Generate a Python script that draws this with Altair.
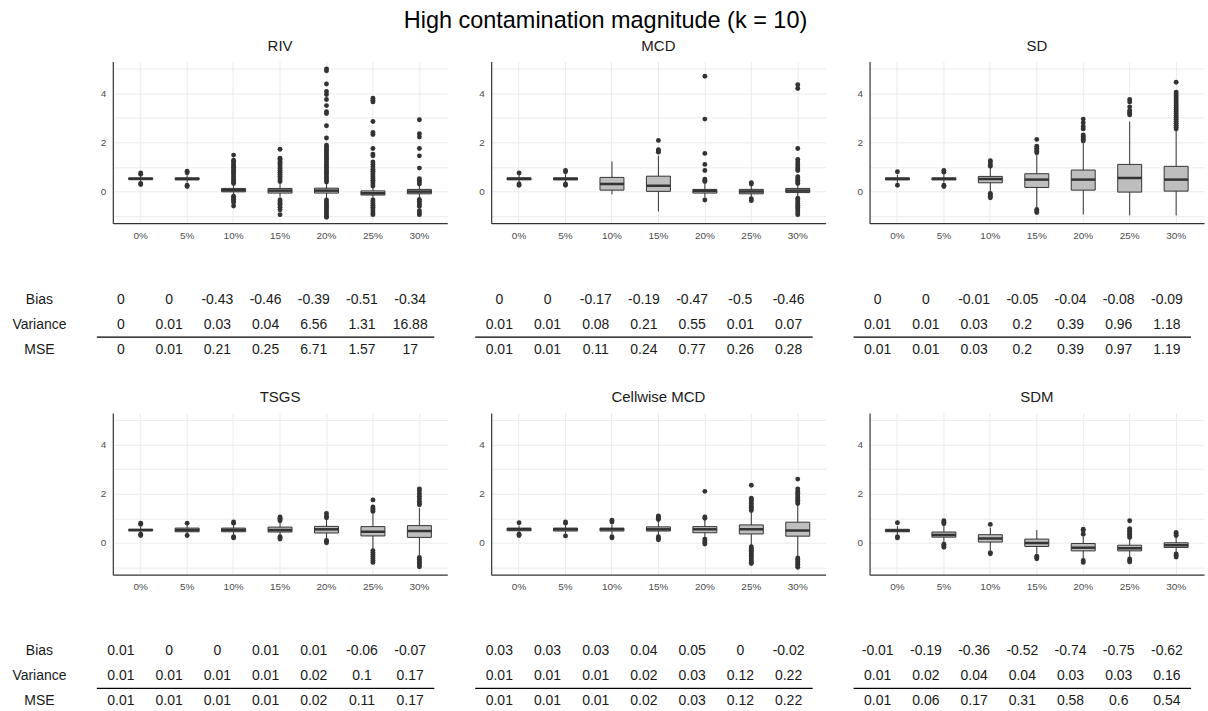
import altair as alt
import pandas as pd

FONT = "Liberation Sans, Arial, sans-serif"

levels = ["0%", "5%", "10%", "15%", "20%", "25%", "30%"]
methods = ["RIV", "MCD", "SD", "TSGS", "Cellwise MCD", "SDM"]
row_names = ["Bias", "Variance", "MSE"]

# box statistics per method (one value per contamination level)
whisker_lo = {
    "RIV": [0.38, 0.36, -0.15, -0.25, -0.28, -0.30, -0.28],
    "MCD": [0.35, 0.35, -0.12, -0.82, -0.25, -0.25, -0.22],
    "SD": [0.35, 0.35, -0.02, -0.68, -0.94, -0.98, -0.98],
    "TSGS": [0.40, 0.35, 0.33, 0.30, 0.15, -0.25, -0.52],
    "Cellwise MCD": [0.40, 0.38, 0.35, 0.30, 0.20, -0.10, -0.55],
    "SDM": [0.33, 0.02, -0.30, -0.45, -0.65, -0.60, -0.40],
}
box_q1 = {
    "RIV": [0.48, 0.47, -0.02, -0.07, -0.07, -0.15, -0.10],
    "MCD": [0.47, 0.47, 0.05, 0.00, -0.07, -0.10, -0.05],
    "SD": [0.47, 0.47, 0.35, 0.16, 0.05, -0.03, 0.01],
    "TSGS": [0.49, 0.45, 0.45, 0.44, 0.40, 0.28, 0.22],
    "Cellwise MCD": [0.49, 0.48, 0.48, 0.48, 0.41, 0.36, 0.27],
    "SDM": [0.45, 0.23, 0.03, -0.15, -0.33, -0.33, -0.19],
}
box_med = {
    "RIV": [0.51, 0.51, 0.05, 0.03, 0.03, -0.08, -0.01],
    "MCD": [0.51, 0.51, 0.30, 0.23, 0.02, -0.01, 0.03],
    "SD": [0.51, 0.51, 0.50, 0.48, 0.48, 0.55, 0.48],
    "TSGS": [0.52, 0.52, 0.52, 0.52, 0.55, 0.45, 0.48],
    "Cellwise MCD": [0.55, 0.55, 0.55, 0.55, 0.55, 0.55, 0.50],
    "SDM": [0.50, 0.32, 0.17, -0.01, -0.20, -0.22, -0.10],
}
box_q3 = {
    "RIV": [0.55, 0.55, 0.12, 0.12, 0.13, 0.02, 0.08],
    "MCD": [0.55, 0.55, 0.57, 0.62, 0.08, 0.08, 0.12],
    "SD": [0.55, 0.55, 0.61, 0.72, 0.87, 1.10, 1.02],
    "TSGS": [0.55, 0.60, 0.60, 0.64, 0.67, 0.66, 0.70],
    "Cellwise MCD": [0.60, 0.60, 0.60, 0.65, 0.66, 0.73, 0.84],
    "SDM": [0.55, 0.44, 0.33, 0.15, -0.03, -0.10, 0.00],
}
whisker_hi = {
    "RIV": [0.64, 0.66, 0.28, 0.35, 0.32, 0.18, 0.25],
    "MCD": [0.68, 0.70, 1.22, 1.45, 0.30, 0.25, 0.28],
    "SD": [0.68, 0.68, 0.95, 1.52, 2.00, 2.85, 2.48],
    "TSGS": [0.65, 0.72, 0.75, 0.85, 0.95, 1.20, 1.42],
    "Cellwise MCD": [0.70, 0.72, 0.75, 0.88, 0.95, 1.25, 1.55],
    "SDM": [0.68, 0.70, 0.62, 0.52, 0.25, 0.15, 0.25],
}

# outlying points per method and level
outliers = {
    "RIV": [
        [0.75, 0.70, 0.32, 0.28],
        [0.82, 0.76, 0.25, 0.20],
        [0.32, 0.38, 0.45, 0.52, 0.60, 0.68, 0.75, 0.82, 0.90, 0.98, 1.05, 1.12, 1.20, 1.27, 1.48,
         -0.20, -0.26, -0.32, -0.38, -0.45, -0.60],
        [0.40, 0.47, 0.55, 0.62, 0.70, 0.78, 0.85, 0.93, 1.00, 1.08, 1.15, 1.22, 1.30, 1.35, 1.72,
         -0.35, -0.42, -0.50, -0.55, -0.65, -0.75, -0.95],
        [0.38, 0.45, 0.52, 0.60, 0.68, 0.75, 0.82, 0.90, 0.98, 1.05, 1.12, 1.20, 1.28, 1.35, 1.42,
         1.50, 1.58, 1.65, 1.72, 1.80, 1.88, 2.18, 2.68, 3.18, 3.25, 3.50, 3.75, 3.95, 4.08, 4.38,
         4.92, 5.00,
         -0.35, -0.42, -0.50, -0.57, -0.65, -0.72, -0.80, -0.88, -0.95, -1.02, -1.06],
        [0.22, 0.30, 0.38, 0.45, 0.52, 0.60, 0.68, 0.75, 0.82, 0.90, 1.00, 1.10, 1.20, 1.45, 1.52,
         1.75, 2.32, 2.40, 2.85, 3.65, 3.72, 3.80,
         -0.35, -0.42, -0.50, -0.57, -0.65, -0.72, -0.80, -0.88, -0.95],
        [0.30, 0.38, 0.45, 0.52, 0.95, 1.45, 1.75, 2.22, 2.35, 2.92,
         -0.33, -0.40, -0.47, -0.55, -0.62, -0.80, -0.88, -0.95],
    ],
    "MCD": [
        [0.75, 0.30, 0.25],
        [0.85, 0.80, 0.30, 0.25],
        [],
        [1.60, 1.65, 1.70, 2.08],
        [0.40, 0.45, 0.50, 0.85, 1.10, 1.55, 2.95, 4.70, -0.35],
        [0.35, 0.30, -0.30, -0.38],
        [0.32, 0.38, 0.45, 0.52, 0.60, 0.85, 0.92, 1.00, 1.10, 1.20, 1.30, 1.75, 4.20, 4.35,
         -0.28, -0.35, -0.42, -0.50, -0.57, -0.65, -0.72, -0.80, -0.88, -0.95],
    ],
    "SD": [
        [0.80, 0.25],
        [0.85, 0.78, 0.20, 0.25],
        [1.02, 1.10, 1.20, 1.25, -0.08, -0.14, -0.20, -0.26],
        [1.58, 1.64, 1.70, 1.76, 1.84, 2.12, -0.74, -0.80, -0.86],
        [2.06, 2.12, 2.18, 2.24, 2.30, 2.55, 2.65, 2.80, 2.95],
        [3.12, 3.18, 3.24, 3.30, 3.45, 3.65, 3.75],
        [2.55, 2.62, 2.70, 2.78, 2.86, 2.94, 3.02, 3.10, 3.18, 3.26, 3.34, 3.42, 3.50, 3.58, 3.66,
         3.74, 3.82, 3.90, 3.98, 4.05, 4.45],
    ],
    "TSGS": [
        [0.80, 0.75, 0.35, 0.30],
        [0.80, 0.30],
        [0.85, 0.80, 0.25, 0.20],
        [0.90, 0.95, 1.00, 1.05, 0.25, 0.20, 0.15],
        [1.02, 1.08, 1.20, 0.10, 0.05, 0.00],
        [1.28, 1.34, 1.40, 1.46, 1.75, -0.32, -0.40, -0.48, -0.56, -0.64, -0.72, -0.80],
        [1.55, 1.62, 1.70, 1.80, 1.90, 2.00, 2.12, 2.20,
         -0.60, -0.67, -0.74, -0.80, -0.87, -0.94, -0.98],
    ],
    "Cellwise MCD": [
        [0.82, 0.30, 0.35],
        [0.85, 0.80, 0.28],
        [0.92, 0.85, 0.25, 0.20],
        [0.95, 1.00, 1.05, 1.10, 0.25, 0.18, 0.12],
        [1.00, 1.05, 2.10, 0.15, 0.08, 0.00, -0.05],
        [1.32, 1.38, 1.45, 1.52, 1.60, 1.68, 1.76, 1.82, 2.35,
         -0.16, -0.23, -0.30, -0.37, -0.44, -0.51, -0.58, -0.65, -0.72, -0.80, -0.85],
        [1.60, 1.67, 1.74, 1.81, 1.88, 1.95, 2.02, 2.10, 2.20, 2.60,
         -0.62, -0.68, -0.75, -0.82, -0.88, -0.95, -1.00],
    ],
    "SDM": [
        [0.82, 0.25, 0.20],
        [0.90, 0.84, 0.78, -0.06, -0.12, -0.18],
        [0.75, -0.40, -0.45],
        [-0.55, -0.60, -0.65],
        [0.35, 0.50, 0.55, -0.72, -0.80],
        [0.22, 0.28, 0.34, 0.40, 0.46, 0.52, 0.58, 0.90, -0.66, -0.72, -0.78],
        [0.30, 0.36, 0.42, -0.46, -0.52, -0.58],
    ],
}

# summary tables
bias = {
    "RIV": [0, 0, -0.43, -0.46, -0.39, -0.51, -0.34],
    "MCD": [0, 0, -0.17, -0.19, -0.47, -0.5, -0.46],
    "SD": [0, 0, -0.01, -0.05, -0.04, -0.08, -0.09],
    "TSGS": [0.01, 0, 0, 0.01, 0.01, -0.06, -0.07],
    "Cellwise MCD": [0.03, 0.03, 0.03, 0.04, 0.05, 0, -0.02],
    "SDM": [-0.01, -0.19, -0.36, -0.52, -0.74, -0.75, -0.62],
}
variance = {
    "RIV": [0, 0.01, 0.03, 0.04, 6.56, 1.31, 16.88],
    "MCD": [0.01, 0.01, 0.08, 0.21, 0.55, 0.01, 0.07],
    "SD": [0.01, 0.01, 0.03, 0.2, 0.39, 0.96, 1.18],
    "TSGS": [0.01, 0.01, 0.01, 0.01, 0.02, 0.1, 0.17],
    "Cellwise MCD": [0.01, 0.01, 0.01, 0.02, 0.03, 0.12, 0.22],
    "SDM": [0.01, 0.02, 0.04, 0.04, 0.03, 0.03, 0.16],
}
mse = {
    "RIV": [0, 0.01, 0.21, 0.25, 6.71, 1.57, 17],
    "MCD": [0.01, 0.01, 0.11, 0.24, 0.77, 0.26, 0.28],
    "SD": [0.01, 0.01, 0.03, 0.2, 0.39, 0.97, 1.19],
    "TSGS": [0.01, 0.01, 0.01, 0.01, 0.02, 0.11, 0.17],
    "Cellwise MCD": [0.01, 0.01, 0.01, 0.02, 0.03, 0.12, 0.22],
    "SDM": [0.01, 0.06, 0.17, 0.31, 0.58, 0.6, 0.54],
}

DARK = "#333333"
GRID = "#ebebeb"
PW, PH = 335, 162
TH = 75
TSHIFT = 16          # the table starts a little left of the plot's y axis
TW = 338


def box_chart(m, first):
    ext = 106 if first else 16
    stats = pd.DataFrame({
        "level": levels, "lo": whisker_lo[m], "q1": box_q1[m], "med": box_med[m],
        "q3": box_q3[m], "hi": whisker_hi[m],
    })
    pts = pd.DataFrame(
        [{"level": lv, "v": v} for lv, vals in zip(levels, outliers[m]) for v in vals]
    )
    xaxis = alt.Axis(title=None, grid=True, gridColor=GRID, gridWidth=1, domain=True,
                     domainColor=DARK, domainWidth=1.2, ticks=False, tickSize=0, labelAngle=0,
                     labelFontSize=10, labelColor="#4d4d4d", labelPadding=7, labelFont=FONT)
    yaxis = alt.Axis(title=None, values=[-1, 0, 1, 2, 3, 4, 5],
                     labelExpr="datum.value % 2 == 0 ? datum.label : ''",
                     grid=True, gridColor=GRID, gridWidth=1, domain=True, domainColor=DARK,
                     domainWidth=1.2, ticks=False, tickSize=0, labelFontSize=10,
                     labelColor="#4d4d4d", labelPadding=7, labelFont=FONT,
                     minExtent=ext, maxExtent=ext)
    xs = alt.Scale(domain=levels, paddingInner=0, paddingOuter=0.1)
    ys = alt.Scale(domain=[-1.3, 5.3], nice=False, zero=False)
    X = alt.X("level:N", sort=levels, scale=xs, axis=xaxis)

    whisk = alt.Chart(stats).mark_rule(color=DARK, strokeWidth=1).encode(
        x=X, y=alt.Y("lo:Q", scale=ys, axis=yaxis), y2="hi:Q")
    box = alt.Chart(stats).mark_bar(size=24, color="#bebebe", stroke=DARK, strokeWidth=1).encode(
        x=X, y=alt.Y("q1:Q", scale=ys, axis=yaxis), y2="q3:Q")
    medl = alt.Chart(stats).mark_tick(color=DARK, size=24, thickness=2.5, opacity=1).encode(
        x=X, y=alt.Y("med:Q", scale=ys, axis=yaxis))
    outs = alt.Chart(pts).mark_circle(size=24, color=DARK, opacity=1).encode(
        x=X, y=alt.Y("v:Q", scale=ys, axis=yaxis))
    return alt.layer(whisk, box, medl, outs).properties(
        width=PW, height=PH,
        title=alt.TitleParams(text=m, fontSize=15, font=FONT, fontWeight="normal",
                              color="#1a1a1a", frame="group", anchor="middle", offset=8),
    )


def fmt(v):
    return f"{v:g}"


def table_chart(m, first):
    recs = []
    for i, lv in enumerate(levels):
        recs.append({"col": lv, "row": "Bias", "txt": fmt(bias[m][i])})
        recs.append({"col": lv, "row": "Variance", "txt": fmt(variance[m][i])})
        recs.append({"col": lv, "row": "MSE", "txt": fmt(mse[m][i])})
    df = pd.DataFrame(recs)
    xs = alt.Scale(domain=levels, paddingInner=0, paddingOuter=0, range=[-TSHIFT, TW - TSHIFT])
    ys = alt.Scale(domain=row_names, paddingInner=0, paddingOuter=0)
    if first:
        yaxis = alt.Axis(title=None, domain=False, ticks=False, tickSize=0, grid=False,
                         labelAlign="center", labelPadding=74, labelFontSize=14,
                         labelColor="#1a1a1a", labelFont=FONT, minExtent=106, maxExtent=106)
    else:
        yaxis = None
    txt = alt.Chart(df).mark_text(fontSize=14, font=FONT, color="#1a1a1a").encode(
        x=alt.X("col:N", sort=levels, scale=xs, axis=None),
        y=alt.Y("row:N", sort=row_names, scale=ys, axis=yaxis),
        text="txt:N",
    )
    line = alt.Chart(pd.DataFrame({"row": ["MSE"]})).mark_rule(color="#000000", strokeWidth=1.2).encode(
        y=alt.Y("row:N", sort=row_names, scale=ys, axis=yaxis, bandPosition=0),
        x=alt.value(-TSHIFT), x2=alt.value(TW - TSHIFT),
    )
    return alt.layer(txt, line).properties(width=PW, height=TH)


def panel(m, first):
    return alt.vconcat(box_chart(m, first), table_chart(m, first), spacing=47)


row1 = alt.hconcat(panel("RIV", True), panel("MCD", False), panel("SD", False), spacing=27)
row2 = alt.hconcat(panel("TSGS", True), panel("Cellwise MCD", False), panel("SDM", False), spacing=27)

chart = alt.vconcat(row1, row2, spacing=28).properties(
    title=alt.TitleParams(text="High contamination magnitude (k = 10)", fontSize=23.5, font=FONT,
                          fontWeight="normal", color="#000000", anchor="middle", offset=6),
    padding={"left": 7, "top": 8, "right": 4, "bottom": 0},
    background="white",
).configure_view(stroke=None)

chart.save("out.html", embed_options={"renderer": "svg", "actions": False})
